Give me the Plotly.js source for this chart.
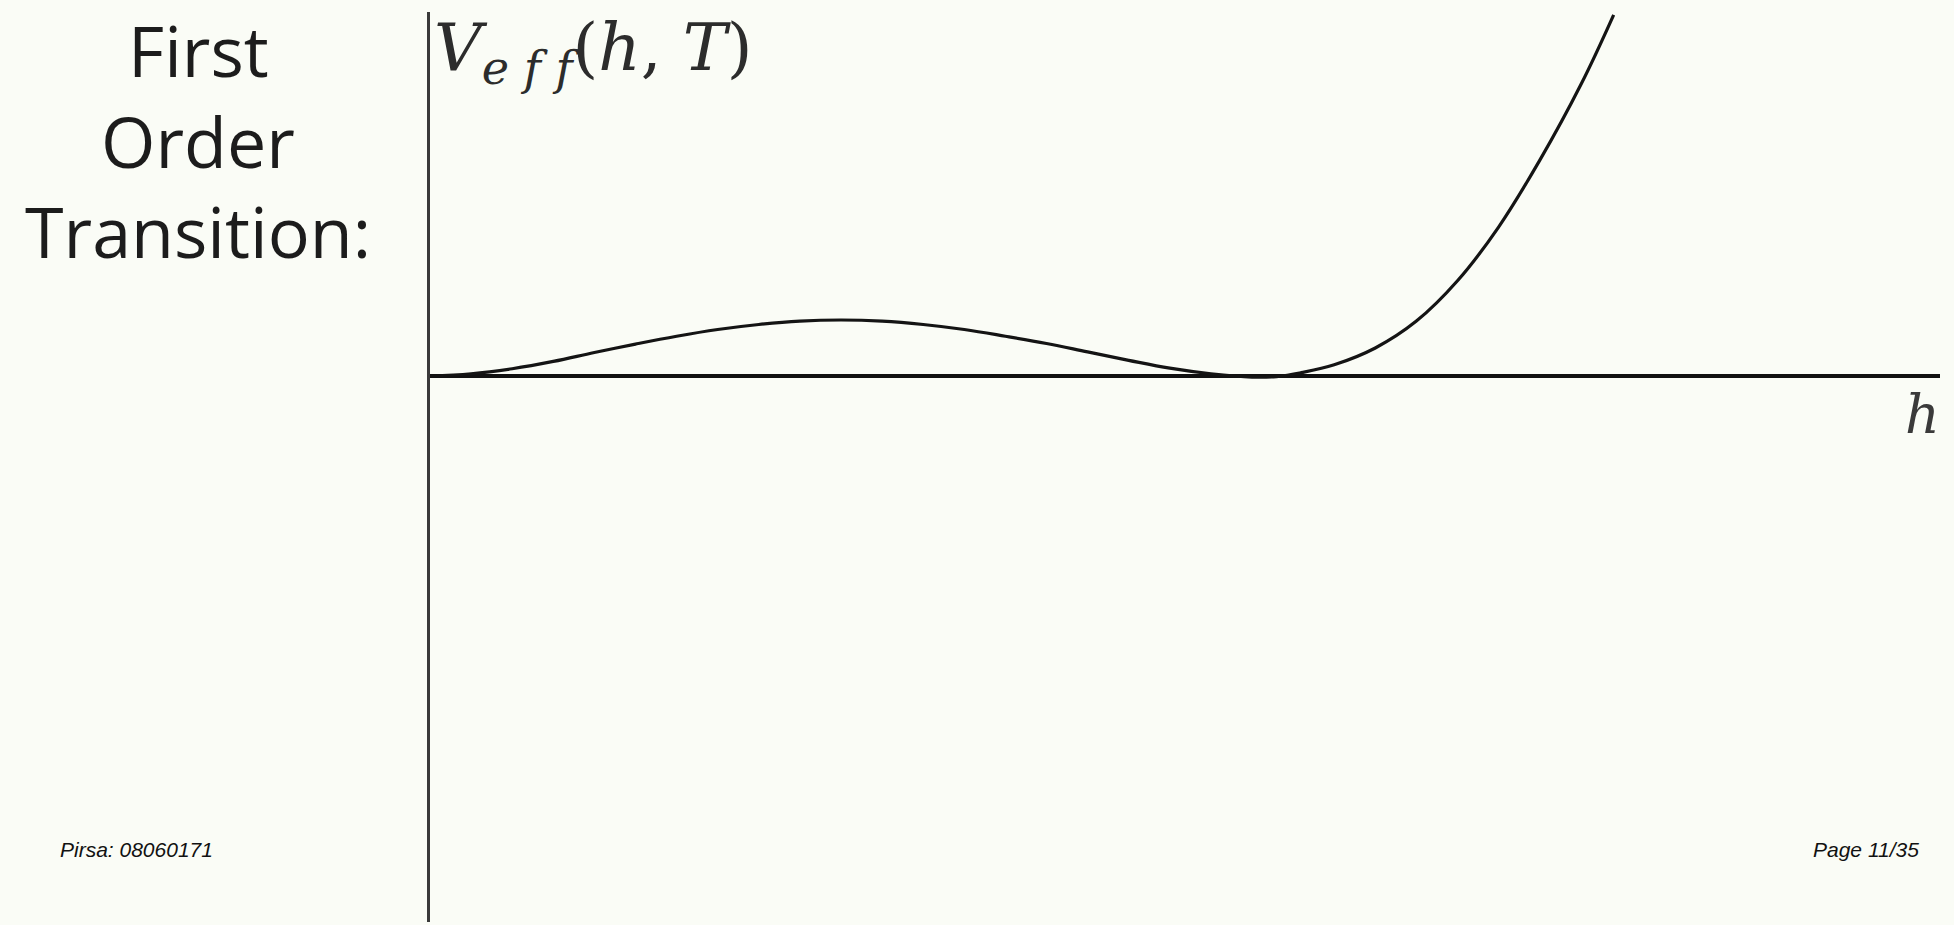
<!DOCTYPE html>
<html>
<head>
<meta charset="utf-8">
<script src="https://cdn.plot.ly/plotly-3.0.1.min.js"></script>
<style>
  html, body { margin: 0; padding: 0; background: #fafcf6; }
  #chart { width: 1954px; height: 925px; }
</style>
</head>
<body>
<div id="chart"></div>
<script>
// Field value h and effective potential V_eff(h, T) at the critical temperature:
// two degenerate minima separated by a barrier.
const hValues = [0, 0.05, 0.1, 0.15, 0.2, 0.25, 0.3, 0.35, 0.4, 0.45, 0.5,
                 0.55, 0.6, 0.65, 0.7, 0.75, 0.8, 0.85, 0.9, 0.95, 1.0,
                 1.03, 1.06, 1.1, 1.15, 1.2, 1.25, 1.3, 1.35, 1.4, 1.44];
const vEffValues = [0, 0.04, 0.13, 0.26, 0.42, 0.57, 0.71, 0.83, 0.92, 0.98, 1.0,
                    0.98, 0.92, 0.83, 0.71, 0.58, 0.43, 0.28, 0.14, 0.04, -0.02,
                    -0.01, 0.06, 0.2, 0.5, 0.98, 1.7, 2.66, 3.85, 5.2, 6.45];

const titleLines = ['First', 'Order', 'Transition:'];

const xRange = [0, 1.837];
const yRange = [-9.75, 6.5];

const W = 1954, H = 925;
const margin = {l: 430, r: 14, t: 12, b: 3};
const plotW = W - margin.l - margin.r;
const plotH = H - margin.t - margin.b;
// pixel position -> paper coordinate
const px = x => (x - margin.l) / plotW;
const py = y => (H - margin.b - y) / plotH;

const trace = {
  x: hValues,
  y: vEffValues,
  type: 'scatter',
  mode: 'lines',
  line: {color: '#141414', width: 3.2, shape: 'spline', smoothing: 1.1},
  hoverinfo: 'skip',
  cliponaxis: true
};

// slide heading, one annotation per line
const titleRows = [50, 141, 231];
const titleAnnotations = titleLines.map((t, i) => ({
  xref: 'paper', yref: 'paper',
  x: px(198), y: py(titleRows[i]),
  xanchor: 'center', yanchor: 'middle',
  showarrow: false,
  text: t,
  font: {family: '"Open Sans", Lato, sans-serif', size: 70, color: '#1c1c1c'}
}));

const layout = {
  width: W,
  height: H,
  margin: margin,
  paper_bgcolor: '#fafcf6',
  plot_bgcolor: '#fafcf6',
  showlegend: false,
  xaxis: {
    range: xRange,
    showgrid: false,
    zeroline: false,
    showline: false,
    showticklabels: false,
    ticks: ''
  },
  yaxis: {
    range: yRange,
    showgrid: false,
    zeroline: true,
    zerolinecolor: '#111111',
    zerolinewidth: 4,
    showline: true,
    linecolor: '#3a3a3a',
    linewidth: 3,
    mirror: false,
    showticklabels: false,
    ticks: ''
  },
  annotations: titleAnnotations.concat([
    {
      xref: 'paper', yref: 'paper',
      x: px(432), y: py(52),
      xanchor: 'left', yanchor: 'middle',
      showarrow: false,
      text: '<i>V</i><sub><i>e f f</i></sub>(<i>h</i>, <i>T</i>)',
      font: {family: '"DejaVu Serif", "Liberation Serif", serif', size: 66, color: '#2c2c2c'}
    },
    {
      xref: 'paper', yref: 'paper',
      x: px(1942), y: py(414),
      xanchor: 'right', yanchor: 'middle',
      showarrow: false,
      text: '<i>h</i>',
      font: {family: '"DejaVu Serif", "Liberation Serif", serif', size: 54, color: '#3a3a3a'}
    },
    {
      xref: 'paper', yref: 'paper',
      x: px(58), y: py(849),
      xanchor: 'left', yanchor: 'middle',
      showarrow: false,
      text: '<i>Pirsa: 08060171</i>',
      font: {family: '"Liberation Sans", Arial, sans-serif', size: 21, color: '#111111'}
    },
    {
      xref: 'paper', yref: 'paper',
      x: px(1921), y: py(849),
      xanchor: 'right', yanchor: 'middle',
      showarrow: false,
      text: '<i>Page 11/35</i>',
      font: {family: '"Liberation Sans", Arial, sans-serif', size: 21, color: '#111111'}
    }
  ])
};

Plotly.newPlot('chart', [trace], layout, {staticPlot: true, displayModeBar: false});
</script>
</body>
</html>
